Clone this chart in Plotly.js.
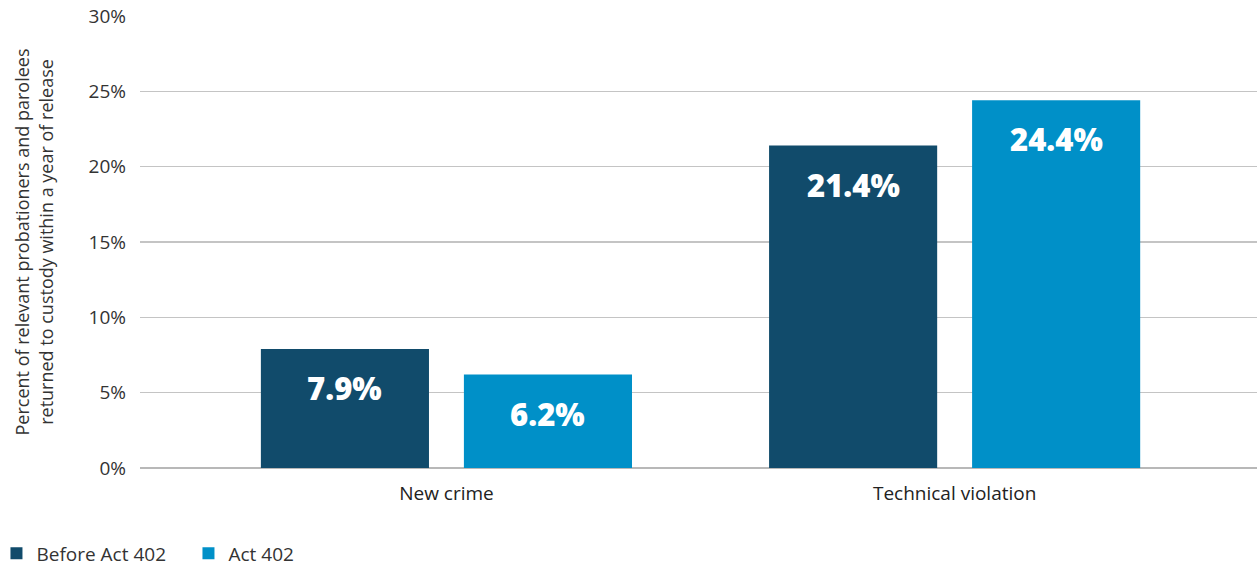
<!DOCTYPE html>
<html>
<head>
<meta charset="utf-8">
<script src="https://cdn.plot.ly/plotly-3.0.1.min.js"></script>
<style>html,body{margin:0;padding:0;background:#fff}#chart{width:1257px;height:567px}</style>
</head>
<body>
<div id="chart"></div>
<script>
const categories = ["New crime", "Technical violation"];
const seriesNames = ["Before Act 402", "Act 402"];
const beforeValues = [7.9, 21.4];
const afterValues = [6.2, 24.4];
const yTickValues = [0, 5, 10, 15, 20, 25, 30];
const yTickLabels = ["0%", "5%", "10%", "15%", "20%", "25%", "30%"];

const colors = ["#114b6b", "#0090c8"];
const seriesValues = [beforeValues, afterValues];
const FONT = "Open Sans, Noto Sans, sans-serif";

const traces = seriesValues.map((vals, i) => ({
  type: "bar",
  name: seriesNames[i],
  x: categories,
  y: vals,
  marker: {color: colors[i]},
  hoverinfo: "skip"
}));

const annotations = [];
seriesValues.forEach((vals, i) => {
  vals.forEach((v, j) => {
    annotations.push({
      x: categories[j], y: v, xref: "x", yref: "y",
      text: v.toFixed(1) + "%",
      showarrow: false,
      xshift: (i === 0 ? -1 : 1) * 101.5,
      yshift: -39,
      font: {family: FONT, size: 31, color: "#ffffff", weight: 800}
    });
  });
});

const layout = {
  width: 1257, height: 567,
  margin: {l: 140, r: 0, t: 16, b: 99, autoexpand: false},
  paper_bgcolor: "#fff", plot_bgcolor: "#fff",
  barmode: "group",
  bargap: 0.201,
  bargroupgap: 0.172,
  font: {family: FONT, color: "#333333"},
  xaxis: {
    range: [-0.603, 1.595],
    showgrid: false, zeroline: false, showline: false,
    ticks: "", tickfont: {size: 19, color: "#222"},
    ticklabelstandoff: 12,
    fixedrange: true
  },
  yaxis: {
    range: [0, 30],
    tickvals: yTickValues, ticktext: yTickLabels,
    showgrid: true, gridcolor: "#c4c4c4", gridwidth: 1.3,
    zeroline: true, zerolinecolor: "#b8b8b8", zerolinewidth: 1.5,
    showline: false,
    ticks: "", ticklen: 0,
    tickfont: {size: 19, color: "#333"},
    ticklabelstandoff: 13,
    title: {text: "Percent of relevant probationers and parolees<br>returned to custody within a year of release",
            font: {size: 18, color: "#333"}, standoff: 30},
    fixedrange: true
  },
  showlegend: true,
  legend: {
    orientation: "h", xref: "paper", yref: "container",
    x: -0.1285, xanchor: "left", y: 0.024, yanchor: "middle",
    font: {size: 19, color: "#333"},
    itemwidth: 30, traceorder: "normal",
    entrywidth: 147, entrywidthmode: "pixels"
  },
  annotations: annotations
};

Plotly.newPlot("chart", traces, layout, {displayModeBar: false, staticPlot: true});
</script>
</body>
</html>
